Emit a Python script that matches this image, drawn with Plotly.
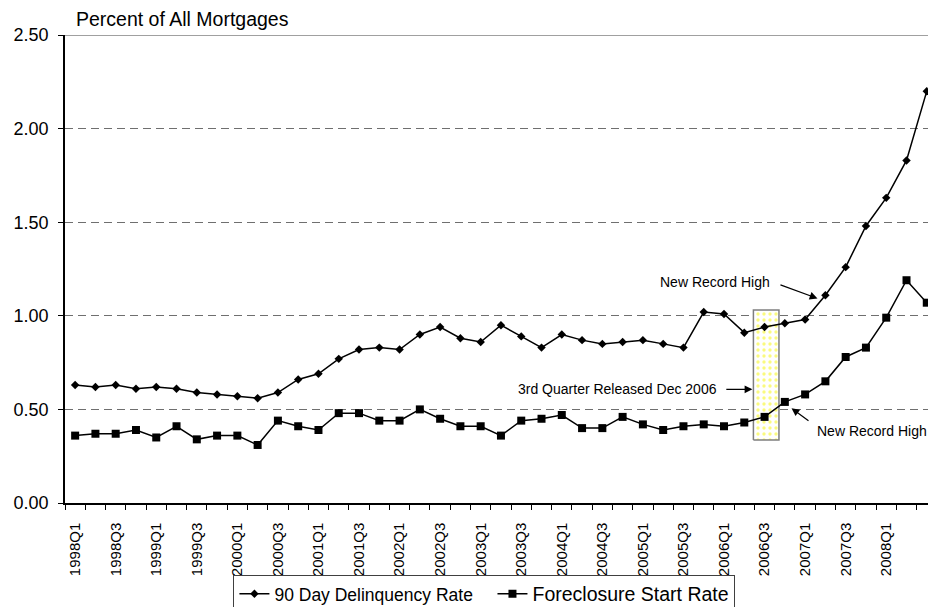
import plotly.graph_objects as go

quarters = [f"{y}Q{q}" for y in range(1998, 2009) for q in (1, 2, 3, 4)][:43]

delinquency_90 = [0.63, 0.62, 0.63, 0.61, 0.62, 0.61, 0.59, 0.58, 0.57, 0.56, 0.59, 0.66, 0.69, 0.77, 0.82,
                  0.83, 0.82, 0.90, 0.94, 0.88, 0.86, 0.95, 0.89, 0.83, 0.90, 0.87, 0.85, 0.86, 0.87,
                  0.85, 0.83, 1.02, 1.01, 0.91, 0.94, 0.96, 0.98, 1.11, 1.26, 1.48, 1.63, 1.83, 2.20]

foreclosure_start = [0.36, 0.37, 0.37, 0.39, 0.35, 0.41, 0.34, 0.36, 0.36, 0.31, 0.44, 0.41, 0.39, 0.48, 0.48,
                     0.44, 0.44, 0.50, 0.45, 0.41, 0.41, 0.36, 0.44, 0.45, 0.47, 0.40, 0.40, 0.46, 0.42,
                     0.39, 0.41, 0.42, 0.41, 0.43, 0.46, 0.54, 0.58, 0.65, 0.78, 0.83, 0.99, 1.19, 1.07]

series_names = ["90 Day Delinquency Rate", "Foreclosure Start Rate"]

y_ticks = [0.0, 0.5, 1.0, 1.5, 2.0, 2.5]

idx = list(range(len(quarters)))
label_idx = idx[::2]
label_text = [quarters[i] for i in label_idx]

FONT = "Liberation Sans, Arial, sans-serif"

fig = go.Figure()

# highlighted box around 2006Q3 (annotation box)
bx0, bx1, by0, by1 = 33.45, 34.71, 0.337, 1.031
fig.add_trace(go.Scatter(
    x=[bx0, bx1, bx1, bx0, bx0], y=[by0, by0, by1, by1, by0],
    mode="lines", fill="toself",
    line=dict(color="#7f7f7f", width=1.5),
    fillcolor="rgba(255,255,255,1)",
    fillpattern=dict(shape=".", fgcolor="#f5f500", bgcolor="#ffffff", size=6, solidity=0.25),
    showlegend=False, hoverinfo="skip",
))

fig.add_trace(go.Scatter(
    x=idx, y=delinquency_90, mode="lines+markers",
    name=series_names[0] + "&nbsp;&nbsp;&nbsp;",
    line=dict(color="black", width=1.5),
    marker=dict(symbol="diamond", size=6.5, color="black"),
))
fig.add_trace(go.Scatter(
    x=idx, y=foreclosure_start, mode="lines+markers",
    name="<span style='font-size:19.5px'>" + series_names[1] + "</span>",
    line=dict(color="black", width=1.5),
    marker=dict(symbol="square", size=8, color="black"),
))

fig.update_layout(
    width=928, height=607,
    margin=dict(l=65, r=0, t=35, b=104, autoexpand=False),
    paper_bgcolor="white", plot_bgcolor="white",
    font=dict(family=FONT, color="black", size=18),
    showlegend=True,
    legend=dict(
        orientation="h", x=0.486, xanchor="center", y=-0.1535, yanchor="top",
        bordercolor="#404040", borderwidth=1, bgcolor="white",
        font=dict(size=17.5, family=FONT), itemwidth=30,
    ),
)

fig.update_xaxes(
    range=[-0.5, 42.06], showgrid=False, zeroline=False, automargin=False,
    showline=True, linecolor="black", linewidth=1.5,
    tickmode="array", tickvals=label_idx, ticktext=label_text,
    tickangle=-90, ticks="outside", ticklen=5, tickcolor="rgba(0,0,0,0)",
    ticklabelstandoff=7,
    tickfont=dict(size=15, family=FONT),
    minor=dict(ticks="outside", ticklen=5, tickcolor="black", tick0=-0.5, dtick=1, showgrid=False),
)
fig.update_yaxes(
    range=[0, 2.5], tickmode="array", tickvals=y_ticks, tickformat=".2f", automargin=False,
    showline=True, linecolor="black", linewidth=1.5,
    ticks="outside", ticklen=5, tickcolor="black", ticklabelstandoff=6,
    showgrid=True, gridcolor="#6f6f6f", gridwidth=1, griddash="8px,5px",
    zeroline=False, tickfont=dict(size=18, family=FONT),
)

# solid top border at 2.50
fig.add_shape(type="line", xref="paper", yref="y", x0=0, x1=1, y0=2.5, y1=2.5,
              line=dict(color="#808080", width=1.5))

fig.add_annotation(text="Percent of All Mortgages", xref="paper", yref="paper",
                   x=0.0104, y=1.035, xanchor="left", yanchor="middle",
                   showarrow=False, font=dict(size=19.5, family=FONT))

afont = dict(size=14, family=FONT, color="black")
fig.add_annotation(text="New Record High", x=34.39, y=1.179, xanchor="right", yanchor="middle",
                   showarrow=False, font=afont)
fig.add_annotation(text="", x=36.61, y=1.093, ax=34.71, ay=1.168, axref="x", ayref="y",
                   showarrow=True, arrowhead=2, arrowsize=1.3, arrowwidth=1.2, arrowcolor="black")

fig.add_annotation(text="3rd Quarter Released Dec 2006", x=31.73, y=0.607, xanchor="right", yanchor="middle",
                   showarrow=False, font=afont)
fig.add_annotation(text="", x=33.40, y=0.607, ax=32.04, ay=0.607, axref="x", ayref="y",
                   showarrow=True, arrowhead=2, arrowsize=1.3, arrowwidth=1.2, arrowcolor="black")

fig.add_annotation(text="New Record High", x=36.47, y=0.385, xanchor="left", yanchor="middle",
                   showarrow=False, font=afont)
fig.add_annotation(text="", x=35.33, y=0.506, ax=36.24, ay=0.434, axref="x", ayref="y",
                   showarrow=True, arrowhead=2, arrowsize=1.3, arrowwidth=1.2, arrowcolor="black")

fig.write_html(
    "out.html",
    config={"displayModeBar": False},
    post_script="document.body.style.margin='0';document.body.style.padding='0';"
                "document.documentElement.style.overflow='hidden';",
)
